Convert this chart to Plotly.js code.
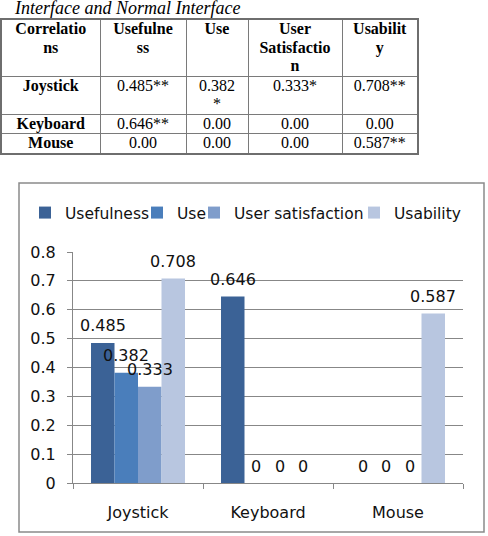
<!DOCTYPE html>
<html>
<head>
<meta charset="utf-8">
<script src="https://cdn.plot.ly/plotly-3.0.1.min.js"></script>
<style>
  html, body { margin: 0; padding: 0; background: #fff; }
  #wrap { position: relative; width: 488px; height: 536px; overflow: hidden; }
  #chart { position: absolute; left: 0; top: 0; width: 488px; height: 536px; }
  #tbl {
    position: absolute; left: 0px; top: 18px; z-index: 5;
    border-collapse: collapse; table-layout: fixed; background: #fff;
    font-family: "Liberation Serif", "Times New Roman", serif; font-size: 16px; color: #000;
    border: 2px solid #6e6e6e;
  }
  #tbl th, #tbl td {
    border: 1.5px solid #7a7a7a; padding: 0; text-align: center; vertical-align: top;
    line-height: 18.5px; overflow: hidden;
  }
  #tbl th { font-weight: bold; }
  #tbl td.rowname { font-weight: bold; }
</style>
</head>
<body>
<div id="wrap">
  <div id="chart"></div>
  <table id="tbl"></table>
</div>
<script>
// ---- data ----
const caption = "Interface and Normal Interface";
const tableHeader = ["Correlatio<br>ns", "Usefulne<br>ss", "Use", "User<br>Satisfactio<br>n", "Usabilit<br>y"];
const tableRowNames = ["Joystick", "Keyboard", "Mouse"];
const tableUsefulness = ["0.485**", "0.646**", "0.00"];
const tableUse = ["0.382<br>*", "0.00", "0.00"];
const tableUserSatisfaction = ["0.333*", "0.00", "0.00"];
const tableUsability = ["0.708**", "0.00", "0.587**"];

const categories = ["Joystick", "Keyboard", "Mouse"];
const seriesNames = ["Usefulness", "Use", "User satisfaction", "Usability"];
const usefulness = [0.485, 0.646, 0];
const use = [0.382, 0, 0];
const userSatisfaction = [0.333, 0, 0];
const usability = [0.708, 0, 0.587];
const yTicks = [0, 0.1, 0.2, 0.3, 0.4, 0.5, 0.6, 0.7, 0.8];

// ---- table (built from the arrays) ----
const colWidths = [99, 86, 62, 94, 76];
const rowHeights = [56, 38, 19, 19];
(function buildTable() {
  const t = document.getElementById("tbl");
  const cg = document.createElement("colgroup");
  colWidths.forEach(w => { const c = document.createElement("col"); c.style.width = w + "px"; cg.appendChild(c); });
  t.appendChild(cg);
  const hr = document.createElement("tr");
  hr.style.height = rowHeights[0] + "px";
  tableHeader.forEach(h => { const th = document.createElement("th"); th.innerHTML = h; hr.appendChild(th); });
  t.appendChild(hr);
  const cols = [tableUsefulness, tableUse, tableUserSatisfaction, tableUsability];
  tableRowNames.forEach((name, r) => {
    const tr = document.createElement("tr");
    tr.style.height = rowHeights[r + 1] + "px";
    const td0 = document.createElement("td"); td0.className = "rowname"; td0.textContent = name; tr.appendChild(td0);
    cols.forEach(col => { const td = document.createElement("td"); td.innerHTML = col[r]; tr.appendChild(td); });
    t.appendChild(tr);
  });
})();

// ---- chart ----
const W = 488, H = 536;
const px = v => v / W;
const py = v => (H - v) / H;
const colors = ["#3B6296", "#4A7EBB", "#7F9DCB", "#B8C6E0"];
const font = "DejaVu Sans";
const serif = "Liberation Serif, Times New Roman, serif";
const grey = "#878787";
const bargap = 0.277;
const seriesValues = [usefulness, use, userSatisfaction, usability];
const legendTextX = [65, 177, 234, 394];
const legendIds = ["legend", "legend2", "legend3", "legend4"];

const traces = seriesNames.map((name, i) => ({
  type: "bar",
  name: name,
  x: categories,
  y: seriesValues[i],
  marker: { color: colors[i] },
  legend: legendIds[i],
  showlegend: true,
  hoverinfo: "none"
}));

const annotations = [{
  text: caption, xref: "paper", yref: "paper",
  x: px(12), y: py(20), xanchor: "left", yanchor: "bottom",
  showarrow: false, font: { family: serif, size: 18, color: "#000", style: "italic" }
}];
const bw = (1 - bargap) / seriesNames.length;
seriesValues.forEach((vals, i) => {
  vals.forEach((v, j) => {
    annotations.push({
      text: String(v), xref: "x", yref: "y",
      x: j + (i - (seriesNames.length - 1) / 2) * bw, y: v,
      yshift: 17, xanchor: "center", yanchor: "middle",
      showarrow: false, font: { family: font, size: 16, color: "#111" }
    });
  });
});

const layout = {
  width: W, height: H,
  margin: { l: 0, r: 0, t: 0, b: 0, autoexpand: false },
  paper_bgcolor: "#fff", plot_bgcolor: "#fff",
  showlegend: true,
  barmode: "group", bargap: bargap, bargroupgap: 0,
  font: { family: font, size: 16, color: "#111" },
  xaxis: {
    domain: [px(73), px(463)],
    type: "category",
    showline: true, linecolor: grey, linewidth: 1,
    ticks: "outside", tickson: "boundaries", ticklen: 5, tickcolor: grey,
    showgrid: false, ticklabelstandoff: 15,
    tickfont: { family: font, size: 16, color: "#111" },
    fixedrange: true
  },
  yaxis: {
    domain: [(H - 483) / H, (H - 252) / H],
    range: [0, 0.8], tickvals: yTicks, ticktext: yTicks.map(String),
    showline: true, linecolor: grey, linewidth: 1,
    ticks: "outside", ticklen: 5, tickcolor: grey,
    showgrid: true, gridcolor: grey, gridwidth: 1, zeroline: false,
    ticklabelstandoff: 8,
    tickfont: { family: font, size: 16, color: "#111" },
    fixedrange: true
  },
  annotations: annotations,
  shapes: [{
    type: "rect", xref: "paper", yref: "paper",
    x0: px(19), x1: px(484), y0: py(532), y1: py(183),
    line: { color: "#8a8a8a", width: 1.5 }, fillcolor: "rgba(0,0,0,0)"
  }]
};
legendIds.forEach((id, i) => {
  layout[id] = {
    x: px(legendTextX[i] - 40), y: py(213), xanchor: "left", yanchor: "middle",
    orientation: "h", bgcolor: "rgba(0,0,0,0)", borderwidth: 0,
    font: { family: font, size: 15.5, color: "#111" }
  };
});

Plotly.newPlot("chart", traces, layout, { displayModeBar: false, staticPlot: true });
</script>
</body>
</html>
